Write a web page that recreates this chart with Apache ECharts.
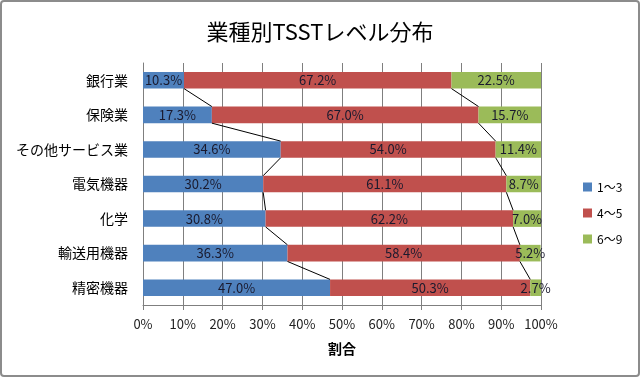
<!DOCTYPE html>
<html>
<head>
<meta charset="utf-8">
<script src="https://cdn.jsdelivr.net/npm/echarts@6/dist/echarts.min.js"></script>
<style>
	html, body { margin: 0; padding: 0; background: #fff; }
	#chart { width: 640px; height: 377px; }
</style>
</head>
<body>
<div id="chart"></div>
<script>
	// 業種（上から順）
	const categories = ['銀行業', '保険業', 'その他サービス業', '電気機器', '化学', '輸送用機器', '精密機器']
	const low = [10.3, 17.3, 34.6, 30.2, 30.8, 36.3, 47.0]   // 1～3
	const mid = [67.2, 67.0, 54.0, 61.1, 62.2, 58.4, 50.3]   // 4～5
	const high = [22.5, 15.7, 11.4, 8.7, 7.0, 5.2, 2.7]      // 6～9
	const xTicks = [0, 10, 20, 30, 40, 50, 60, 70, 80, 90, 100]

	const font = '"Noto Sans CJK JP", "Noto Sans", sans-serif'
	const chart = echarts.init(document.getElementById('chart'))

	// 区分線（系列線）用：隣り合う棒の境界をつなぐ
	function seriesLineData(a, b) {
		let res = []
		for (let i = 0; i < categories.length - 1; i++) {
			let c1 = a[i] + (b ? b[i] : 0)
			let c2 = a[i + 1] + (b ? b[i + 1] : 0)
			res.push([c1, i, c2])
		}
		return res
	}
	const lineData = seriesLineData(low).concat(seriesLineData(low, mid))

	function barSeries(name, data, color) {
		return {
			name: name,
			type: 'bar',
			stack: 'total',
			data: data,
			barWidth: '48%',
			itemStyle: { color: color },
			label: {
				show: true,
				position: 'inside',
				color: '#1a1a2e',
				fontSize: 13,
				fontFamily: font,
				formatter: p => p.value.toFixed(1) + '%'
			},
			z: 2
		}
	}

	let option = {
		animation: false,
		textStyle: { fontFamily: font },
		graphic: [{
			type: 'rect',
			shape: { x: 1, y: 1, width: 638, height: 375, r: 3 },
			style: { fill: 'none', stroke: '#8c8c8c', lineWidth: 2 },
			z: 100
		}],
		title: {
			text: '業種別TSSTレベル分布',
			left: 'center',
			top: 16,
			textStyle: { fontSize: 22, fontWeight: 'normal', color: '#000', fontFamily: font }
		},
		legend: {
			orient: 'vertical',
			left: 578,
			top: 176,
			itemWidth: 9,
			itemHeight: 9,
			itemGap: 14,
			icon: 'rect',
			textStyle: { fontSize: 12, color: '#000', fontFamily: font },
			data: ['1～3', '4～5', '6～9']
		},
		grid: {
			left: 143,
			right: 99,
			top: 63,
			bottom: 72
		},
		xAxis: {
			type: 'value',
			min: 0,
			max: 100,
			interval: 10,
			name: '割合',
			nameLocation: 'middle',
			nameGap: 37,
			nameTextStyle: { fontSize: 14, fontWeight: 'bold', color: '#000' },
			axisLabel: {
				color: '#222',
				fontSize: 13,
				margin: 13,
				formatter: v => xTicks.indexOf(v) >= 0 ? v + '%' : ''
			},
			axisLine: { show: true, lineStyle: { color: '#7f7f7f' } },
			axisTick: { show: true, length: 5, lineStyle: { color: '#7f7f7f' } },
			splitLine: { show: true, lineStyle: { color: '#7f7f7f', width: 1 } }
		},
		yAxis: {
			type: 'category',
			inverse: true,
			data: categories,
			axisLabel: { color: '#000', fontSize: 14, margin: 15 },
			axisLine: { show: true, lineStyle: { color: '#7f7f7f' } },
			axisTick: { show: false }
		},
		series: [
			barSeries('1～3', low, '#4f81bd'),
			barSeries('4～5', mid, '#c0504d'),
			barSeries('6～9', high, '#9bbb59'),
			{
				type: 'custom',
				data: lineData,
				silent: true,
				z: 3,
				renderItem: function(params, api) {
					let half = api.size([0, 1])[1] * 0.24
					let p1 = api.coord([api.value(0), api.value(1)])
					let p2 = api.coord([api.value(2), api.value(1) + 1])
					return {
						type: 'line',
						shape: { x1: p1[0], y1: p1[1] + half, x2: p2[0], y2: p2[1] - half },
						style: { stroke: '#000', lineWidth: 1 }
					}
				}
			}
		]
	}
	chart.setOption(option)
</script>
</body>
</html>
